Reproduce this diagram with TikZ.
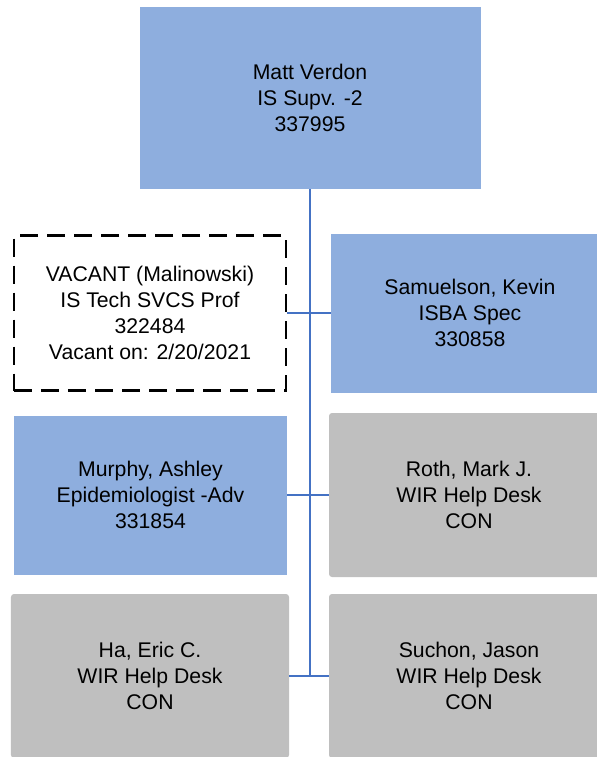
\documentclass[tikz,border=0pt]{standalone}
\usepackage{fontspec}
\setmainfont{Liberation Sans}
\definecolor{boxblue}{HTML}{8EAEDE}
\definecolor{boxgray}{HTML}{BFBFBF}
\definecolor{linkblue}{HTML}{4472C4}
\tikzset{
  card/.style={inner sep=0pt, align=center, font=\fontsize{21.3}{26}\selectfont, text=black},
  bluecard/.style={card, fill=boxblue},
  graycard/.style={card, fill=boxgray, rounded corners=3bp},
  vacantcard/.style={card, draw=black, line width=2.4bp, dash pattern=on 18bp off 9bp},
  link/.style={draw=linkblue, line width=2.2bp}
}
\begin{document}
\begin{tikzpicture}[x=1bp,y=-1bp]
\useasboundingbox (0,0) rectangle (597,757);
\clip (0,0) rectangle (597,757);
\node[bluecard, minimum width=341bp, minimum height=182bp] (top) at (310,98) {Matt Verdon\\IS Supv. -2\\337995};
\node[vacantcard, minimum width=272bp, minimum height=155bp] (vac) at (150,313) {VACANT (Malinowski)\\IS Tech SVCS Prof\\322484\\Vacant on: 2/20/2021};
\node[bluecard, minimum width=278bp, minimum height=159bp] (sam) at (470,313) {Samuelson, Kevin\\ISBA Spec\\330858};
\node[bluecard, minimum width=273bp, minimum height=159bp] (mur) at (150.5,495) {Murphy, Ashley\\Epidemiologist -Adv\\331854};
\node[graycard, minimum width=280bp, minimum height=164bp] (roth) at (469,495) {Roth, Mark J.\\WIR Help Desk\\CON};
\node[graycard, minimum width=278bp, minimum height=164bp] (ha) at (150,676) {Ha, Eric C.\\WIR Help Desk\\CON};
\node[graycard, minimum width=280bp, minimum height=164bp] (such) at (469,676) {Suchon, Jason\\WIR Help Desk\\CON};
\coordinate (trunkend) at (top.south |- ha.east);
\draw[link] (top.south) -- (trunkend);
\draw[link] (vac.east) -- (sam.west);
\draw[link] (mur.east) -- (roth.west);
\draw[link] (ha.east) -- (such.west);
\end{tikzpicture}
\end{document}
